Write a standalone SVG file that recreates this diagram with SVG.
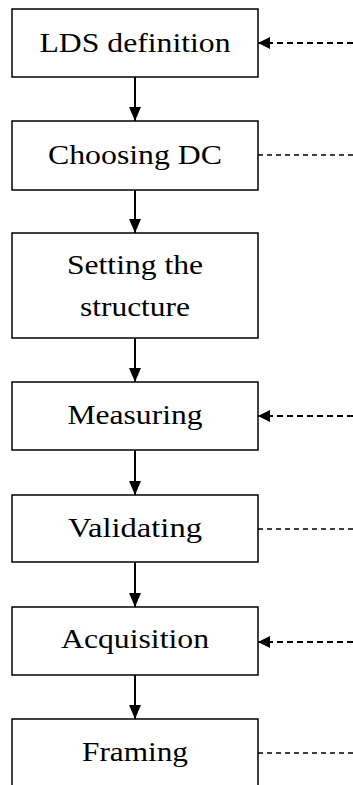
<svg xmlns="http://www.w3.org/2000/svg" width="353" height="785" viewBox="0 0 353 785">
<style>
.box{fill:#fff;stroke:#000;stroke-width:1.5}
.t{font-family:"Liberation Serif","Times New Roman",serif;font-size:28px;fill:#000;text-anchor:middle}
.flow{stroke:#000;stroke-width:2;fill:none}
.dash{stroke:#000;stroke-width:2;stroke-dasharray:6 4;fill:none}
.dash2{stroke:#000;stroke-width:1.3;stroke-dasharray:5 4;fill:none}
</style>
<defs>
<marker id="ah" markerWidth="14" markerHeight="12" refX="14" refY="6" orient="auto" markerUnits="userSpaceOnUse">
<path d="M0,0 L14,6 L0,12 Z" fill="#000"/>
</marker>
<marker id="ah2" markerWidth="12" markerHeight="12" refX="12" refY="6" orient="auto" markerUnits="userSpaceOnUse">
<path d="M0,0 L12,6 L0,12 Z" fill="#000"/>
</marker>
</defs>
<g id="connectors">
<line class="flow" x1="135" y1="77" x2="135" y2="121" marker-end="url(#ah)"/>
<line class="flow" x1="135" y1="190" x2="135" y2="233" marker-end="url(#ah)"/>
<line class="flow" x1="135" y1="338" x2="135" y2="382" marker-end="url(#ah)"/>
<line class="flow" x1="135" y1="450" x2="135" y2="495" marker-end="url(#ah)"/>
<line class="flow" x1="135" y1="562" x2="135" y2="607" marker-end="url(#ah)"/>
<line class="flow" x1="135" y1="675" x2="135" y2="719" marker-end="url(#ah)"/>
<line class="dash" x1="353" y1="43" x2="258" y2="43" marker-end="url(#ah2)"/>
<line class="dash2" x1="258" y1="155" x2="353" y2="155"/>
<line class="dash" x1="353" y1="416" x2="258" y2="416" marker-end="url(#ah2)"/>
<line class="dash2" x1="258" y1="529" x2="353" y2="529"/>
<line class="dash" x1="353" y1="642" x2="258" y2="642" marker-end="url(#ah2)"/>
<line class="dash2" x1="258" y1="753" x2="353" y2="753"/>
</g>
<g id="n1"><rect class="box" x="12" y="9" width="246" height="68"/><text class="t" x="135" y="52" textLength="191" lengthAdjust="spacingAndGlyphs">LDS definition</text></g>
<g id="n2"><rect class="box" x="12" y="121" width="246" height="69"/><text class="t" x="135" y="164" textLength="174" lengthAdjust="spacingAndGlyphs">Choosing DC</text></g>
<g id="n3"><rect class="box" x="12" y="233" width="246" height="105"/><text class="t" x="135" y="274" textLength="136" lengthAdjust="spacingAndGlyphs">Setting the</text><text class="t" x="135" y="316" textLength="110" lengthAdjust="spacingAndGlyphs">structure</text></g>
<g id="n4"><rect class="box" x="12" y="382" width="246" height="68"/><text class="t" x="135" y="424" textLength="135" lengthAdjust="spacingAndGlyphs">Measuring</text></g>
<g id="n5"><rect class="box" x="12" y="495" width="246" height="67"/><text class="t" x="135" y="537" textLength="134" lengthAdjust="spacingAndGlyphs">Validating</text></g>
<g id="n6"><rect class="box" x="12" y="607" width="246" height="68"/><text class="t" x="135" y="648" textLength="148" lengthAdjust="spacingAndGlyphs">Acquisition</text></g>
<g id="n7"><rect class="box" x="12" y="719" width="246" height="80"/><text class="t" x="135" y="761" textLength="106" lengthAdjust="spacingAndGlyphs">Framing</text></g>
</svg>
